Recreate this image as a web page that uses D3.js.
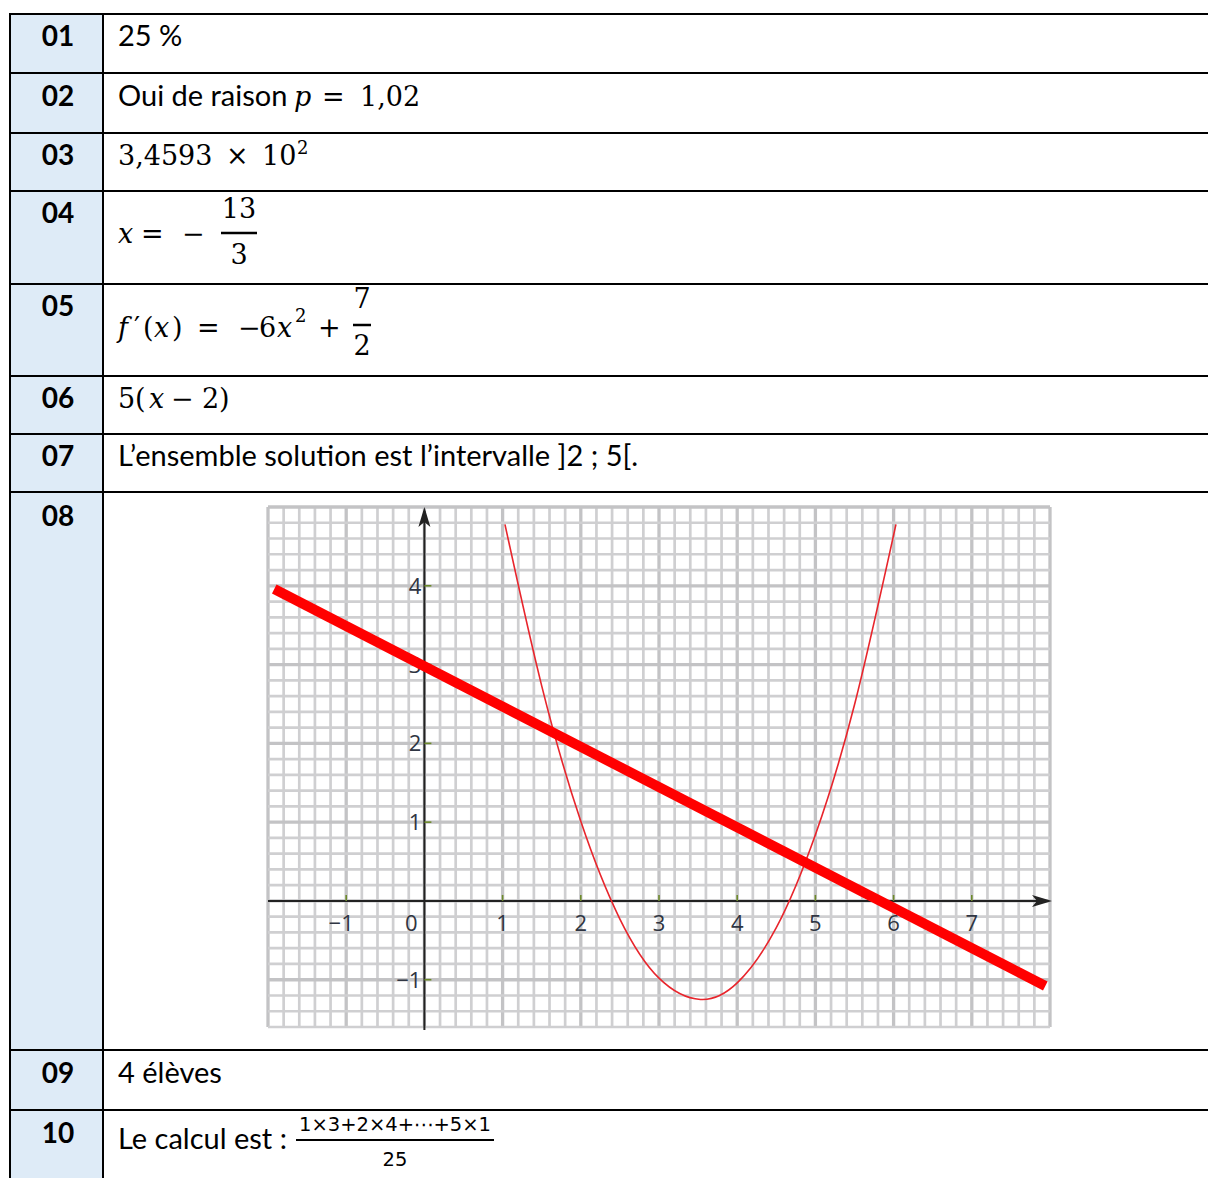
<!DOCTYPE html>
<html>
<head>
<meta charset="utf-8">
<script src="https://cdn.jsdelivr.net/npm/d3@7"></script>
<style>
  html, body { margin: 0; padding: 0; background: #fff; }
  svg { display: block; }
</style>
</head>
<body>
<svg id="chart" width="1208" height="1178"></svg>
<script>
// ---------- data ----------
const rowIds = ["01", "02", "03", "04", "05", "06", "07", "08", "09", "10"];
const answerText01 = "25 %";
const answerText02 = "Oui de raison";
const answerText07 = "L’ensemble solution est l’intervalle ]2 ; 5[.";
const answerText09 = "4 élèves";
const answerText10 = "Le calcul est : ";
const fractionNum10 = "1×3+2×4+⋯+5×1";
const fractionDen10 = "25";

const xTickValues = [-1, 0, 1, 2, 3, 4, 5, 6, 7];
const xTickLabels = ["−1", "0", "1", "2", "3", "4", "5", "6", "7"];
const yTickValues = [-1, 1, 2, 3, 4];
const yTickLabels = ["−1", "1", "2", "3", "4"];

// thick straight line
const lineX = [-1.92, 7.94];
const lineY = [3.96, -1.08];

// parabola points
const parabX = [1.03, 1.5, 2, 2.5, 3, 3.53, 4, 4.5, 5, 5.5, 6.03];
const parabY = [4.78, 2.73, 1.01, -0.23, -0.98, -1.25, -1.04, -0.34, 0.84, 2.49, 4.78];

// ---------- layout ----------
const W = 1208, H = 1178;
const svg = d3.select("#chart");
const rowLines = [14, 73, 133, 191, 284, 376, 434, 492, 1050, 1110];
const labelBaselines = [46, 106, 165, 223, 316, 408, 466, 526, 1083, 1143];
const colLeft = 10, colSep = 103;
const SANS = "Lato, 'Open Sans', sans-serif";
const SERIF = "'DejaVu Serif', 'Liberation Serif', serif";
const MS = 27; // math font size

// left column fill
svg.append("rect").attr("x", colLeft).attr("y", 14).attr("width", colSep - colLeft).attr("height", H - 14)
  .attr("fill", "#deebf7");

// row labels
svg.append("g").selectAll("text").data(rowIds).join("text")
  .attr("x", 58).attr("y", (d, i) => labelBaselines[i])
  .attr("text-anchor", "middle")
  .attr("font-family", SANS).attr("font-weight", "bold").attr("font-size", 28)
  .attr("fill", "#000").text(d => d);

// ---------- answers ----------
const tx = (x, y, txt, opts = {}) => {
  const t = svg.append("text").attr("x", x).attr("y", y)
    .attr("font-family", opts.family || SANS)
    .attr("font-size", opts.size || 29)
    .attr("fill", "#000")
    .text(txt);
  if (opts.italic) t.attr("font-style", "italic");
  if (opts.anchor) t.attr("text-anchor", opts.anchor);
  return t;
};
const bar = (x1, x2, y, w = 2.5) => svg.append("line").attr("x1", x1).attr("x2", x2).attr("y1", y).attr("y2", y)
  .attr("stroke", "#000").attr("stroke-width", w);
const m = { family: SERIF, size: MS };
const mi = { family: SERIF, size: MS, italic: true };

// 01
tx(118, 46, answerText01);
// 02
tx(118, 106, answerText02);
tx(294, 106, "p", mi);
tx(322, 106, "=", m);
tx(360, 106, "1,02", m);
// 03
tx(118, 165, "3,4593", m);
tx(226, 165, "×", m);
tx(262, 165, "10", m);
tx(297, 154, "2", { family: SERIF, size: 18 });
// 04
tx(118, 243, "x", mi);
tx(141, 243, "=", m);
tx(182, 243, "−", m);
tx(239, 218, "13", { family: SERIF, size: MS, anchor: "middle" });
bar(221, 257, 233);
tx(239, 264, "3", { family: SERIF, size: MS, anchor: "middle" });
// 05
tx(118, 337, "f", mi);
tx(134, 337, "′", m);
tx(143, 337, "(", m);
tx(154, 337, "x", mi);
tx(172, 337, ")", m);
tx(197, 337, "=", m);
tx(238, 337, "−", m);
tx(259, 337, "6", m);
tx(277, 337, "x", mi);
tx(295, 322, "2", { family: SERIF, size: 18 });
tx(318, 337, "+", m);
tx(362, 308, "7", { family: SERIF, size: MS, anchor: "middle" });
bar(353, 371, 325);
tx(362, 355, "2", { family: SERIF, size: MS, anchor: "middle" });
// 06
tx(118, 408, "5", m);
tx(135, 408, "(", m);
tx(149, 408, "x", mi);
tx(171, 408, "−", m);
tx(202, 408, "2", m);
tx(219, 408, ")", m);
// 07
tx(118, 466, answerText07);
// 09
tx(118, 1083, answerText09);
// 10
tx(118, 1149, answerText10);
tx(395, 1131, fractionNum10, { family: "'DejaVu Sans', sans-serif", size: 19.5, anchor: "middle" });
bar(296, 494, 1140, 2);
tx(395, 1166, fractionDen10, { family: "'DejaVu Sans', sans-serif", size: 19.5, anchor: "middle" });

// ---------- graph ----------
const xDom = [-2, 8], yDom = [-1.6, 5];
const x = d3.scaleLinear().domain(xDom).range([268, 1050]);
const y = d3.scaleLinear().domain(yDom).range([1027, 507]);
const g = svg.append("g");

// grid
const nX = Math.round((xDom[1] - xDom[0]) / 0.2);
const nY = Math.round((yDom[1] - yDom[0]) / 0.2);
const gx = d3.range(nX + 1).map(i => ({ v: xDom[0] + i * 0.2, major: i % 5 === 0 }));
const gy = d3.range(nY + 1).map(i => ({ v: yDom[0] + i * 0.2, major: (i + 2) % 5 === 0 }));
g.append("rect").attr("x", x(xDom[0])).attr("y", y(yDom[1]))
  .attr("width", x(xDom[1]) - x(xDom[0])).attr("height", y(yDom[0]) - y(yDom[1])).attr("fill", "#fff");
g.append("g").selectAll("line").data(gx).join("line")
  .attr("x1", d => x(d.v)).attr("x2", d => x(d.v))
  .attr("y1", y(yDom[0])).attr("y2", y(yDom[1]))
  .attr("stroke", d => d.major ? "#c3c3c5" : "#cfcfd1")
  .attr("stroke-width", d => d.major ? 3.3 : 2.7);
g.append("g").selectAll("line").data(gy).join("line")
  .attr("y1", d => y(d.v)).attr("y2", d => y(d.v))
  .attr("x1", x(xDom[0])).attr("x2", x(xDom[1]))
  .attr("stroke", d => d.major ? "#c3c3c5" : "#cfcfd1")
  .attr("stroke-width", d => d.major ? 3.3 : 2.7);

// axes
const axisColor = "#222";
g.append("line").attr("x1", x(xDom[0])).attr("x2", x(xDom[1]) - 4).attr("y1", y(0)).attr("y2", y(0))
  .attr("stroke", axisColor).attr("stroke-width", 2);
g.append("line").attr("x1", x(0)).attr("x2", x(0)).attr("y1", y(yDom[0]) + 3).attr("y2", y(yDom[1]) + 4)
  .attr("stroke", axisColor).attr("stroke-width", 2);
// arrowheads
const ax = x(xDom[1]) + 2, ay = y(0);
g.append("path").attr("d", `M${ax},${ay} L${ax - 20},${ay - 6} L${ax - 15},${ay} L${ax - 20},${ay + 6} Z`).attr("fill", axisColor);
const bx = x(0), by = y(yDom[1]);
g.append("path").attr("d", `M${bx},${by} L${bx - 6},${by + 20} L${bx},${by + 15} L${bx + 6},${by + 20} Z`).attr("fill", axisColor);

// ticks
const tickColor = "#6d8a2a";
g.append("g").selectAll("line").data(xTickValues.filter(v => v !== 0)).join("line")
  .attr("x1", d => x(d)).attr("x2", d => x(d)).attr("y1", y(0) - 6).attr("y2", y(0))
  .attr("stroke", tickColor).attr("stroke-width", 1.6);
g.append("g").selectAll("line").data(yTickValues).join("line")
  .attr("x1", x(0)).attr("x2", x(0) + 7).attr("y1", d => y(d)).attr("y2", d => y(d))
  .attr("stroke", tickColor).attr("stroke-width", 1.6);

// tick labels
const labColor = "#2f3542";
const labFont = "'Open Sans', 'Noto Sans', sans-serif";
g.append("g").selectAll("text").data(xTickValues).join("text")
  .attr("x", (d) => d === 0 ? x(d) - 13 : x(d) - (d < 0 ? 5 : 0))
  .attr("y", y(0) + 30)
  .attr("text-anchor", "middle")
  .attr("font-family", labFont).attr("font-size", 22)
  .attr("fill", labColor)
  .text((d, i) => xTickLabels[i]);
g.append("g").selectAll("text").data(yTickValues).join("text")
  .attr("x", x(0) - 3).attr("y", d => y(d) + 8)
  .attr("text-anchor", "end")
  .attr("font-family", labFont).attr("font-size", 22)
  .attr("fill", labColor)
  .text((d, i) => yTickLabels[i]);

// parabola
const parabPts = parabX.map((v, i) => [v, parabY[i]]);
g.append("path").datum(parabPts)
  .attr("d", d3.line().x(d => x(d[0])).y(d => y(d[1])).curve(d3.curveNatural))
  .attr("fill", "none").attr("stroke", "#e8252c").attr("stroke-width", 1.6);

// thick line
const linePts = lineX.map((v, i) => [v, lineY[i]]);
g.append("path").datum(linePts)
  .attr("d", d3.line().x(d => x(d[0])).y(d => y(d[1])))
  .attr("fill", "none").attr("stroke", "#ff0000").attr("stroke-width", 10);

// ---------- table borders ----------
const borders = svg.append("g");
borders.selectAll("line.h").data(rowLines).join("line").attr("class", "h")
  .attr("x1", colLeft - 1).attr("x2", W).attr("y1", d => d).attr("y2", d => d)
  .attr("stroke", "#000").attr("stroke-width", 2);
borders.selectAll("line.v").data([colLeft, colSep]).join("line").attr("class", "v")
  .attr("x1", d => d).attr("x2", d => d).attr("y1", 13).attr("y2", H)
  .attr("stroke", "#000").attr("stroke-width", 2);
</script>
</body>
</html>
